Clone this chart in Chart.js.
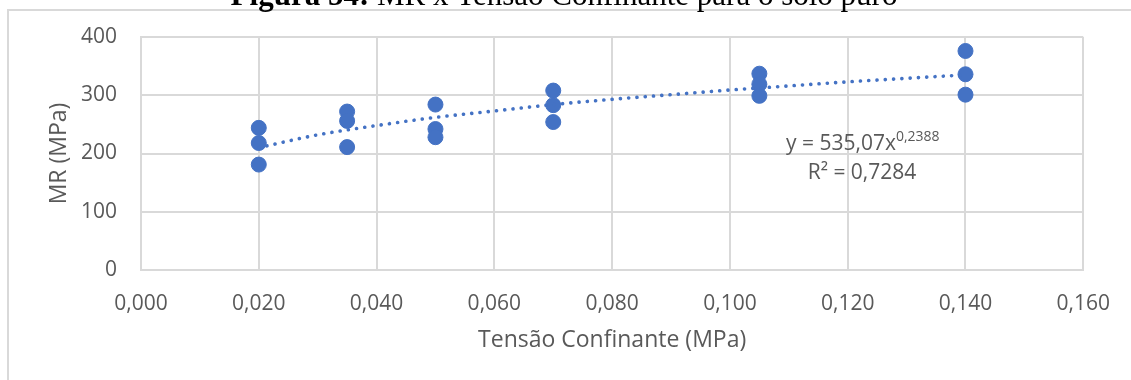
<!DOCTYPE html>
<html lang="pt">
<head>
  <meta charset="UTF-8" />
  <title>MR x Tensão Confinante</title>
  <script src="https://cdn.jsdelivr.net/npm/chart.js"></script>
  <style>
    html, body {
      margin: 0;
      padding: 0;
      background: #ffffff;
      overflow: hidden;
    }
    #chart {
      display: block;
    }
  </style>
</head>
<body>
  <canvas id="chart" width="1131" height="380"></canvas>

  <script>
    // ensaios: tensao confinante (MPa) x modulo de resiliencia (MPa)
    const tensao = [0.020, 0.020, 0.020, 0.035, 0.035, 0.035, 0.050, 0.050, 0.050,
                    0.070, 0.070, 0.070, 0.105, 0.105, 0.105, 0.140, 0.140, 0.140];
    const mr = [244, 218, 181, 272, 256, 211, 284, 242, 228,
                308, 283, 254, 337, 319, 299, 376, 336, 301];

    // linha de tendencia (potencia)
    const trendX = [0.02, 0.03, 0.04, 0.05, 0.06, 0.07, 0.08, 0.09, 0.10, 0.11, 0.12, 0.13, 0.14];
    const trendY = [210, 232, 248, 262, 273, 284, 293, 301, 309, 316, 323, 329, 335];

    const xTicks = [0, 0.02, 0.04, 0.06, 0.08, 0.10, 0.12, 0.14, 0.16];
    const yTicks = [0, 100, 200, 300, 400];

    const title = ['Figura 54:', ' MR x Tensão Confinante para o solo puro'];
    const equation = ['y = 535,07x', '0,2388', 'R² = 0,7284'];

    const blue = '#4472C4';
    const grey = '#595959';
    const gridCol = '#d9d9d9';

    const frame = {
      id: 'frame',
      beforeDraw(chart) {
        const c = chart.ctx;
        c.save();
        c.fillStyle = '#fff';
        c.fillRect(0, 0, chart.width, chart.height);
        c.strokeStyle = gridCol;
        c.lineWidth = 2;
        c.strokeRect(8, 10, 2000, 2000);

        // titulo da figura (cortado no topo)
        c.fillStyle = '#000';
        c.textBaseline = 'alphabetic';
        c.font = 'bold 31px "Liberation Serif"';
        const w1 = c.measureText(title[0]).width;
        c.font = '31px "Liberation Serif"';
        const w2 = c.measureText(title[1]).width;
        const x0 = 564 - (w1 + w2) / 2;
        c.font = 'bold 31px "Liberation Serif"';
        c.fillText(title[0], x0, 5);
        c.font = '31px "Liberation Serif"';
        c.fillText(title[1], x0 + w1, 5);
        c.restore();
      },
      afterDraw(chart) {
        const c = chart.ctx;
        c.save();
        c.fillStyle = grey;
        c.textBaseline = 'alphabetic';
        c.textAlign = 'left';
        c.font = '21px "Open Sans"';
        c.fillText(equation[0], 786, 150);
        const w = c.measureText(equation[0]).width;
        c.font = '14px "Open Sans"';
        c.fillText(equation[1], 786 + w, 141);
        c.font = '21px "Open Sans"';
        c.textAlign = 'center';
        c.fillText(equation[2], 862, 179);
        c.restore();
      }
    };

    const fmt = v => v.toFixed(3).replace('.', ',');

    new Chart(document.getElementById('chart'), {
      type: 'scatter',
      data: {
        datasets: [
          {
            label: 'Tendência',
            type: 'line',
            data: trendX.map((x, i) => ({ x, y: trendY[i] })),
            borderColor: blue,
            borderWidth: 3.6,
            borderDash: [0.1, 8.2],
            borderCapStyle: 'round',
            pointRadius: 0,
            fill: false,
            cubicInterpolationMode: 'monotone',
            order: 0
          },
          {
            label: 'MR',
            data: tensao.map((x, i) => ({ x, y: mr[i] })),
            backgroundColor: blue,
            borderColor: blue,
            pointRadius: 7.5,
            pointHoverRadius: 7.5,
            order: 1
          }
        ]
      },
      options: {
        responsive: false,
        animation: false,
        layout: { padding: { left: 0, top: 37, right: 45, bottom: 0 } },
        plugins: {
          legend: { display: false },
          tooltip: { enabled: false }
        },
        scales: {
          x: {
            type: 'linear',
            min: 0,
            max: 0.16,
            afterBuildTicks: s => { s.ticks = xTicks.map(v => ({ value: v })); },
            afterFit: s => { s.height = 110; },
            grid: { color: gridCol, lineWidth: 2, drawTicks: false },
            border: { color: gridCol, width: 2 },
            ticks: {
              padding: 21,
              maxRotation: 0,
              autoSkip: false,
              color: grey,
              font: { family: 'Open Sans', size: 21 },
              callback: v => fmt(v)
            },
            title: {
              display: true,
              text: 'Tensão Confinante (MPa)',
              color: grey,
              font: { family: 'Open Sans', size: 23 },
              padding: { top: 0, bottom: 26 }
            }
          },
          y: {
            min: 0,
            max: 400,
            afterBuildTicks: s => { s.ticks = yTicks.map(v => ({ value: v })); },
            afterFit: s => { s.width = 141; },
            grid: { color: gridCol, lineWidth: 2, drawTicks: false },
            border: { color: gridCol, width: 2 },
            ticks: {
              padding: 24,
              color: grey,
              font: { family: 'Open Sans', size: 21 }
            },
            title: {
              display: true,
              text: 'MR (MPa)',
              color: grey,
              font: { family: 'Open Sans', size: 23 },
              padding: { top: 46, bottom: 0 }
            }
          }
        }
      },
      plugins: [frame]
    });
  </script>
</body>
</html>
